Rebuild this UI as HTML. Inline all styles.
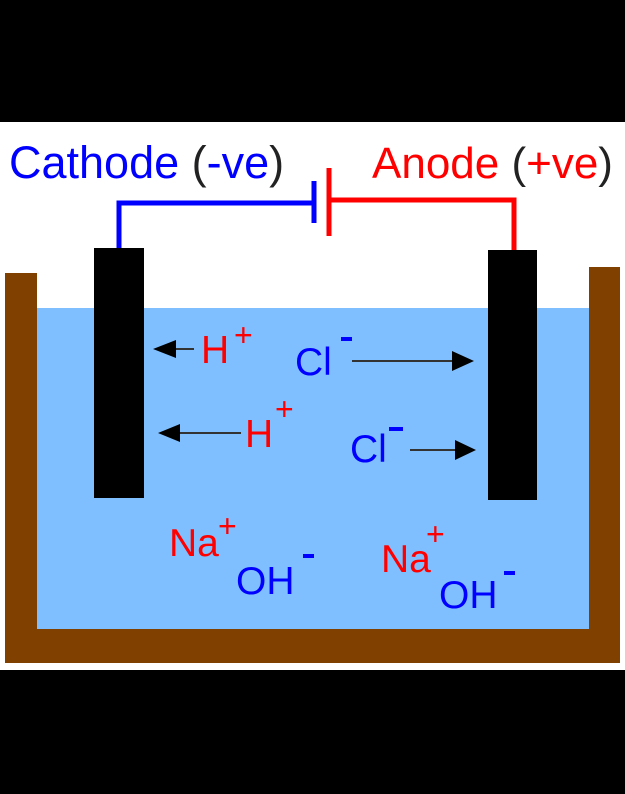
<!DOCTYPE html>
<html><head><meta charset="utf-8"><style>
html,body{margin:0;padding:0;background:#000;}
svg{display:block;}
text{font-family:"Liberation Sans",Arial,sans-serif;}
</style></head><body>
<svg width="625" height="794" viewBox="0 0 625 794" xmlns="http://www.w3.org/2000/svg">
<rect x="0" y="0" width="625" height="794" fill="#000"/>
<rect x="0" y="122" width="625" height="548" fill="#fff"/>
<rect x="37" y="308" width="552" height="321" fill="#80bfff"/>
<rect x="5" y="273" width="32" height="390" fill="#804000"/>
<rect x="589" y="267" width="31" height="396" fill="#804000"/>
<rect x="5" y="629" width="615" height="34" fill="#804000"/>
<rect x="94" y="248" width="50" height="250" fill="#000"/>
<rect x="488" y="250" width="49" height="250" fill="#000"/>
<polyline points="119,248 119,203 314,203" fill="none" stroke="#0000ff" stroke-width="5"/>
<line x1="314" y1="181" x2="314" y2="223" stroke="#0000ff" stroke-width="5"/>
<line x1="329" y1="168" x2="329" y2="236" stroke="#ff0000" stroke-width="5"/>
<polyline points="329,200 514,200 514,250" fill="none" stroke="#ff0000" stroke-width="5"/>
<text x="9" y="178" font-size="45" fill="#0000ff">Cathode <tspan fill="#222">(</tspan>-ve<tspan fill="#222">)</tspan></text>
<text x="372" y="178" font-size="44" fill="#ff0000">Anode <tspan fill="#222">(</tspan>+ve<tspan fill="#222">)</tspan></text>
<g stroke="#333" stroke-width="2" fill="#000">
<line x1="168" y1="349" x2="194" y2="349"/>
<line x1="352" y1="361" x2="460" y2="361"/>
<line x1="172" y1="433" x2="241" y2="433"/>
<line x1="410" y1="450" x2="462" y2="450"/>
</g>
<g fill="#000">
<polygon points="153,349 176,340 176,358"/>
<polygon points="474,361 452,351 452,371"/>
<polygon points="158,433 180,424 180,442"/>
<polygon points="476,450 455,440 455,460"/>
</g>
<g font-size="39">
<text x="201" y="363" fill="#ff0000">H</text>
<text x="234" y="346" fill="#ff0000" font-size="32">+</text>
<text x="295" y="375" fill="#0000ff">Cl</text>
<rect x="341" y="337" width="11" height="4" fill="#0000ff"/>
<text x="245" y="447" fill="#ff0000">H</text>
<text x="275" y="420" fill="#ff0000" font-size="32">+</text>
<text x="350" y="462" fill="#0000ff">Cl</text>
<rect x="389" y="427" width="14" height="4" fill="#0000ff"/>
<text x="169" y="556" fill="#ff0000">Na</text>
<text x="218" y="537" fill="#ff0000" font-size="32">+</text>
<text x="236" y="594" fill="#0000ff">OH</text>
<rect x="303" y="554" width="11" height="4" fill="#0000ff"/>
<text x="381" y="572" fill="#ff0000">Na</text>
<text x="426" y="545" fill="#ff0000" font-size="32">+</text>
<text x="439" y="608" fill="#0000ff">OH</text>
<rect x="504" y="571" width="11" height="4" fill="#0000ff"/>
</g>
</svg>
</body></html>
